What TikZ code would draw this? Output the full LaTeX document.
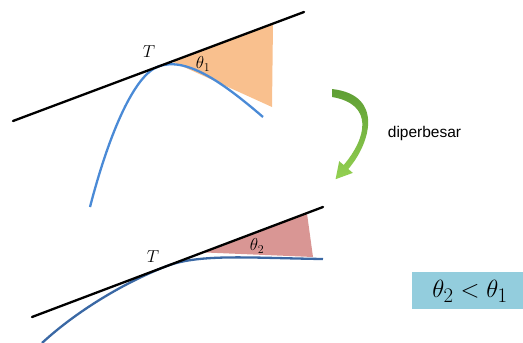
\documentclass[tikz,border=0pt]{standalone}
\usepackage{fontspec}
\newfontfamily\labelsans{Liberation Sans}
\definecolor{curveblue}{HTML}{4A8AD6}
\definecolor{curvedark}{HTML}{3A68A4}
\definecolor{fillorange}{HTML}{F9C08E}
\definecolor{fillpink}{HTML}{D99694}
\definecolor{boxblue}{HTML}{93CDDD}
\definecolor{greentop}{HTML}{5E9E34}
\definecolor{greenbot}{HTML}{94D152}
\begin{document}
\begin{tikzpicture}[x=1pt,y=-1pt,
  tline/.style={line width=2.3pt, black, line cap=round},
  curvea/.style={line width=2.3pt, curveblue},
  curveb/.style={line width=2.3pt, curvedark},
  lbl/.style={font=\fontsize{17.5}{20}\selectfont, inner sep=0pt}]
\useasboundingbox (0,0) rectangle (523,343);
% ---------- top figure ----------
\coordinate (L1a) at (13,121);
\coordinate (L1b) at (304,12);
\coordinate (T1) at (158,66.6);
\coordinate (C1s) at (90,207);
\coordinate (C1e) at (263,117);
\fill[fillorange] (172,61.6) -- (273,23.6) -- (272,107) -- cycle;
\draw[curvea] (C1s) .. controls (110,130) and (135,75.2) .. (T1)
  .. controls (185,56.5) and (220,80) .. (C1e);
\draw[tline] (L1a) -- (L1b);
\node[lbl] (T1lbl) at (149,52) {$T$};
\node[lbl] (th1) at (203,64) {$\theta_1$};
% ---------- arrow ----------
\shade[top color=greentop, bottom color=greenbot]
  (332,89) .. controls (385,95) and (370,144) .. (348.3,169)
  -- (352.8,172.9) -- (335.6,179.2) -- (339.2,161.2) -- (343.7,165)
  .. controls (367,137.6) and (374,104) .. (332,97) -- cycle;
\node[font=\labelsans\fontsize{15.5}{18}\selectfont, inner sep=0pt] (lab) at (424.5,133) {diperbesar};
% ---------- bottom figure ----------
\coordinate (L2a) at (32,317);
\coordinate (L2b) at (323,207);
\coordinate (T2) at (167,266);
\coordinate (C2s) at (42,343);
\coordinate (C2e) at (323,259);
\fill[fillpink] (203,252.4) -- (307,213.5) -- (313,257) -- cycle;
\draw[curveb] (C2s) .. controls (80,308) and (130,280) .. (T2)
  .. controls (200,253.5) and (250,258) .. (C2e);
\draw[tline] (L2a) -- (L2b);
\node[lbl] (T2lbl) at (153,257) {$T$};
\node[lbl] (th2) at (257,246) {$\theta_2$};
% ---------- box ----------
\fill[boxblue] (412,272) rectangle (523,309);
\node[font=\fontsize{28.5}{32}\selectfont, inner sep=0pt] (cmp) at (470,291) {$\theta_2<\theta_1$};
\end{tikzpicture}
\end{document}
